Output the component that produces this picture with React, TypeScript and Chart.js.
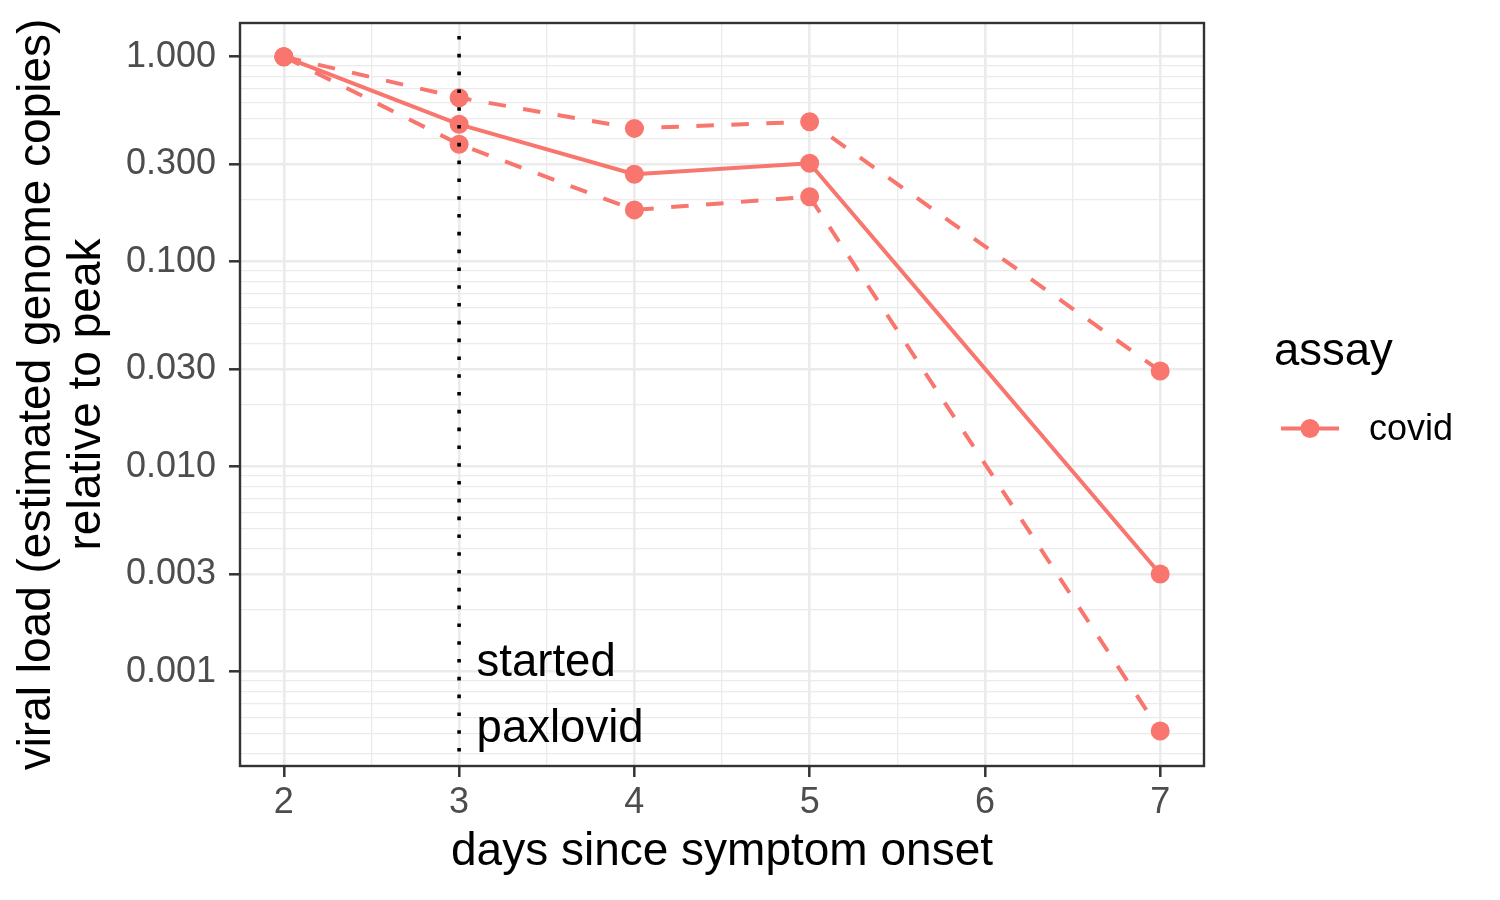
import React, { useEffect, useRef } from 'react';
import { Chart, registerables } from 'chart.js';

Chart.register(...registerables);

// ---------- data ----------
const DAYS = [2, 3, 4, 5, 7];
const COVID_MID = [1.0, 0.468, 0.267, 0.302, 0.003];
const COVID_HIGH = [1.0, 0.631, 0.447, 0.482, 0.0293];
const COVID_LOW = [1.0, 0.374, 0.179, 0.2075, 0.000514];
const SERIES_LABEL = 'covid';
const LEGEND_TITLE = 'assay';
const SERIES_COLOR = '#F8766D';

const X_MIN = 1.75;
const X_MAX = 7.25;
const X_MAJOR_TICKS = [2, 3, 4, 5, 6, 7];
const X_MINOR_TICKS = [2.5, 3.5, 4.5, 5.5, 6.5];
const X_TICK_LABELS = ['2', '3', '4', '5', '6', '7'];

const Y_MIN = 0.000347;
const Y_MAX = 1.46;
const Y_MAJOR_TICKS = [0.001, 0.003, 0.01, 0.03, 0.1, 0.3, 1];
const Y_TICK_LABELS = ['0.001', '0.003', '0.010', '0.030', '0.100', '0.300', '1.000'];
const Y_MINOR_MANTISSAS = [2, 4, 5, 6, 7, 8, 9];
const Y_DECADES = [-4, -3, -2, -1, 0];

const VLINE_X = 3;
const ANNOT_X = 3.1;
const ANNOT_Y = 0.00076;
const ANNOT_LINES = ['started', 'paxlovid'];

const X_TITLE = 'days since symptom onset';
const Y_TITLE = ['viral load (estimated genome copies)', 'relative to peak'];

// ---------- helpers ----------
const FONT = '"Liberation Sans", Arial, Helvetica, sans-serif';

const Y_MINOR_TICKS: number[] = [];
Y_DECADES.forEach((d) => {
  Y_MINOR_MANTISSAS.forEach((m) => {
    const v = parseFloat((m * Math.pow(10, d)).toPrecision(6));
    if (v > Y_MIN && v < Y_MAX) Y_MINOR_TICKS.push(v);
  });
});
const Y_ALL_TICKS = [...Y_MAJOR_TICKS, ...Y_MINOR_TICKS].sort((a, b) => a - b);
const X_ALL_TICKS = [...X_MAJOR_TICKS, ...X_MINOR_TICKS].sort((a, b) => a - b);

const yMajorIndex = (v: number) =>
  Y_MAJOR_TICKS.findIndex((t) => Math.abs(Math.log10(t) - Math.log10(v)) < 1e-6);
const xMajorIndex = (v: number) => X_MAJOR_TICKS.findIndex((t) => Math.abs(t - v) < 1e-9);

const toXY = (ys: number[]) => DAYS.map((d, i) => ({ x: d, y: ys[i] }));

const zeroPadding = (scale: any) => {
  scale.paddingTop = 0;
  scale.paddingBottom = 0;
  scale.paddingLeft = 0;
  scale.paddingRight = 0;
};

const overlayPlugin = {
  id: 'overlay',
  afterDatasetsDraw(chart: any) {
    const { ctx, chartArea, scales } = chart;
    const xs = scales.x;
    const ys = scales.y;
    ctx.save();
    // annotation text
    ctx.fillStyle = '#000000';
    ctx.font = `45.5px ${FONT}`;
    ctx.textAlign = 'left';
    ctx.textBaseline = 'middle';
    const ax = xs.getPixelForValue(ANNOT_X);
    const ay = ys.getPixelForValue(ANNOT_Y);
    const spacing = 66;
    const n = ANNOT_LINES.length;
    ANNOT_LINES.forEach((line, i) => {
      ctx.fillText(line, ax, ay + (i - (n - 1) / 2) * spacing);
    });
    // panel border
    ctx.strokeStyle = '#333333';
    ctx.lineWidth = 2.4;
    ctx.strokeRect(
      chartArea.left,
      chartArea.top,
      chartArea.right - chartArea.left,
      chartArea.bottom - chartArea.top
    );
    ctx.restore();
  },
  afterDraw(chart: any) {
    const { ctx } = chart;
    ctx.save();
    // legend title
    ctx.fillStyle = '#000000';
    ctx.textAlign = 'left';
    ctx.textBaseline = 'alphabetic';
    ctx.font = `45.5px ${FONT}`;
    ctx.fillText(LEGEND_TITLE, 1274, 365);
    // key
    const ky = 428.5;
    ctx.strokeStyle = SERIES_COLOR;
    ctx.lineWidth = 4;
    ctx.setLineDash([]);
    ctx.beginPath();
    ctx.moveTo(1281, ky);
    ctx.lineTo(1339, ky);
    ctx.stroke();
    ctx.fillStyle = SERIES_COLOR;
    ctx.beginPath();
    ctx.arc(1310, ky, 9.5, 0, Math.PI * 2);
    ctx.fill();
    // label
    ctx.fillStyle = '#000000';
    ctx.font = `36px ${FONT}`;
    ctx.fillText(SERIES_LABEL, 1369, 440);
    ctx.restore();
  },
};

export default function App() {
  const canvasRef = useRef<HTMLCanvasElement | null>(null);

  useEffect(() => {
    const canvas = canvasRef.current;
    if (!canvas) return;

    const seriesCommon = {
      borderColor: SERIES_COLOR,
      backgroundColor: SERIES_COLOR,
      pointBackgroundColor: SERIES_COLOR,
      pointBorderWidth: 0,
      pointRadius: 9.5,
      pointHoverRadius: 9.5,
      borderWidth: 4,
      borderCapStyle: 'butt' as const,
      tension: 0,
      fill: false,
      order: 1,
    };

    const chart = new Chart(canvas, {
      type: 'line',
      data: {
        datasets: [
          {
            label: 'paxlovid start',
            data: [
              { x: VLINE_X, y: Y_MAX },
              { x: VLINE_X, y: Y_MIN },
            ],
            borderColor: '#000000',
            borderWidth: 3.6,
            borderDash: [3.6, 14.2],
            borderDashOffset: -13,
            borderCapStyle: 'butt',
            pointRadius: 0,
            fill: false,
            order: 0,
          },
          { ...seriesCommon, label: SERIES_LABEL + ' high', data: toXY(COVID_HIGH), borderDash: [17.5, 17.5] },
          { ...seriesCommon, label: SERIES_LABEL + ' low', data: toXY(COVID_LOW), borderDash: [17.5, 17.5] },
          { ...seriesCommon, label: SERIES_LABEL, data: toXY(COVID_MID) },
        ],
      },
      options: {
        responsive: false,
        animation: false,
        devicePixelRatio: 1,
        layout: { padding: { left: 0, top: 23, right: 296, bottom: 0 } },
        plugins: {
          legend: { display: false },
          tooltip: { enabled: false },
        },
        scales: {
          x: {
            type: 'linear',
            bounds: 'data',
            min: X_MIN,
            max: X_MAX,
            afterBuildTicks: (scale: any) => {
              scale.ticks = X_ALL_TICKS.map((v) => ({ value: v }));
            },
            afterFit: (scale: any) => {
              scale.height = 900 - 766;
              zeroPadding(scale);
            },
            ticks: {
              autoSkip: false,
              maxRotation: 0,
              minRotation: 0,
              padding: 4,
              color: '#4D4D4D',
              font: { family: FONT, size: 36 },
              callback: (value: any) => {
                const i = xMajorIndex(Number(value));
                return i >= 0 ? X_TICK_LABELS[i] : '';
              },
            },
            grid: {
              color: '#EBEBEB',
              lineWidth: (c: any) => (c.tick && xMajorIndex(c.tick.value) >= 0 ? 2.6 : 1.3),
              tickColor: (c: any) =>
                c.tick && xMajorIndex(c.tick.value) >= 0 ? '#333333' : 'rgba(0,0,0,0)',
              tickWidth: 2.5,
              tickLength: 11,
              drawTicks: true,
            },
            border: { display: false },
            title: {
              display: true,
              text: X_TITLE,
              color: '#000000',
              font: { family: FONT, size: 46 },
              padding: { top: 0, bottom: 20.5 },
            },
          },
          y: {
            type: 'logarithmic',
            bounds: 'data',
            min: Y_MIN,
            max: Y_MAX,
            afterBuildTicks: (scale: any) => {
              scale.ticks = Y_ALL_TICKS.map((v) => ({ value: v }));
            },
            afterFit: (scale: any) => {
              scale.width = 240;
              zeroPadding(scale);
            },
            ticks: {
              autoSkip: false,
              padding: 13,
              color: '#4D4D4D',
              font: { family: FONT, size: 36 },
              callback: (value: any) => {
                const i = yMajorIndex(Number(value));
                return i >= 0 ? Y_TICK_LABELS[i] : '';
              },
            },
            grid: {
              color: '#EBEBEB',
              lineWidth: (c: any) => (c.tick && yMajorIndex(c.tick.value) >= 0 ? 2.6 : 1.3),
              tickColor: (c: any) =>
                c.tick && yMajorIndex(c.tick.value) >= 0 ? '#333333' : 'rgba(0,0,0,0)',
              tickWidth: 2.5,
              tickLength: 11,
              drawTicks: true,
            },
            border: { display: false },
            title: {
              display: true,
              text: Y_TITLE,
              color: '#000000',
              font: { family: FONT, size: 46, lineHeight: '50px' as any },
              padding: { top: 12.4, bottom: 0 },
            },
          },
        },
      },
      plugins: [overlayPlugin],
    } as any);

    return () => {
      chart.destroy();
    };
  }, []);

  return (
    <div style={{ position: 'absolute', left: 0, top: 0, width: 1500, height: 900, background: '#ffffff' }}>
      <canvas ref={canvasRef} width={1500} height={900} style={{ display: 'block', width: 1500, height: 900 }} />
    </div>
  );
}
